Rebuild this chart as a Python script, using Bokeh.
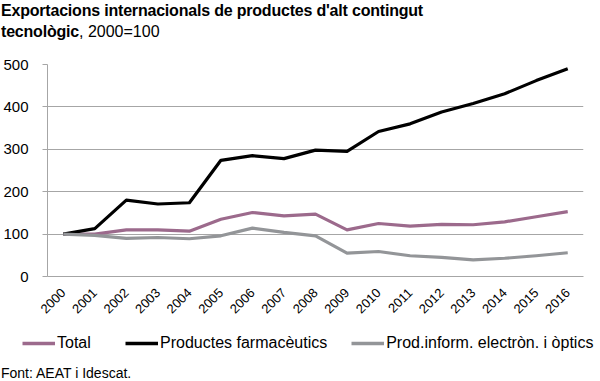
import math
from bokeh.plotting import figure
from bokeh.models import Legend, LegendItem, FixedTicker, Range1d, Div
from bokeh.layouts import column
from bokeh.embed import file_html
from bokeh.resources import INLINE

years = [str(y) for y in range(2000, 2017)]
total = [100, 100, 110, 110, 107, 135, 151, 143, 147, 110, 125, 119, 123, 122, 129, 141, 153]
farma = [100, 113, 180, 171, 174, 274, 285, 278, 298, 295, 342, 360, 388, 408, 431, 462, 490]
electro = [100, 97, 90, 92, 89, 96, 114, 104, 96, 55, 59, 49, 45, 39, 43, 49, 56]

title1 = "Exportacions internacionals de productes d'alt contingut"
title2a = "tecnològic"
title2b = ", 2000=100"
source = "Font: AEAT i Idescat."
names = ["Total", "Productes farmacèutics", "Prod.inform. electròn. i òptics"]
colors = ["#9c6a8c", "#000000", "#939598"]

FONT = "Liberation Sans"
GRID = "#a6a6a6"

title_div = Div(
    text=(f"<div style=\"font-family:'{FONT}';font-size:16px;line-height:21px;color:#000;"
          f"white-space:nowrap;padding-left:1px\">"
          f"<span style=\"font-weight:bold;letter-spacing:-0.2px\">{title1}</span><br>"
          f"<span style=\"font-weight:bold;letter-spacing:-0.2px\">{title2a}</span>{title2b}</div>"),
    width=600, height=48, margin=0)

p = figure(width=600, height=282, x_range=years, y_range=Range1d(0, 500),
           output_backend="svg", toolbar_location=None,
           min_border_left=47, min_border_right=17, min_border_top=16, min_border_bottom=54)
p.outline_line_color = None
p.background_fill_color = "white"
p.border_fill_color = "white"

p.xgrid.grid_line_color = None
p.ygrid.grid_line_color = GRID
p.ygrid.grid_line_width = 1
p.yaxis.ticker = FixedTicker(ticks=[0, 100, 200, 300, 400, 500])
p.yaxis.axis_line_color = GRID
p.yaxis.major_tick_line_color = GRID
p.yaxis.major_tick_out = 5
p.yaxis.major_tick_in = 0
p.yaxis.minor_tick_line_color = None
p.yaxis.major_label_standoff = 14
p.yaxis.major_label_text_font = FONT
p.yaxis.major_label_text_font_size = "15px"
p.yaxis.major_label_text_color = "#000000"

p.xaxis.axis_line_color = GRID
p.xaxis.major_tick_line_color = None
p.xaxis.minor_tick_line_color = None
p.xaxis.major_label_orientation = math.pi / 4
p.xaxis.major_label_standoff = 8
p.xaxis.major_label_text_font = FONT
p.xaxis.major_label_text_font_size = "13px"
p.xaxis.major_label_text_color = "#000000"

for vals, c in zip([total, farma, electro], colors):
    p.line(years, vals, line_color=c, line_width=3.2, line_join="round")

# separate strip for the legend, so it can sit under the whole width
pl = figure(width=600, height=30, x_range=Range1d(0, 1), y_range=Range1d(0, 1),
            output_backend="svg", toolbar_location=None,
            x_axis_location=None, y_axis_location=None,
            min_border=0, min_border_left=0, min_border_right=0, min_border_top=0, min_border_bottom=0)
pl.frame_align = False
pl.outline_line_color = None
pl.grid.visible = False
nan = float("nan")
dummies = [pl.line(x=[nan], y=[nan], line_color=c, line_width=3.5) for c in colors]
legend = Legend(items=[LegendItem(label=n, renderers=[r]) for n, r in zip(names, dummies)],
                location=(22, 7), orientation="horizontal", border_line_color=None,
                background_fill_alpha=0, padding=0, margin=0, spacing=24,
                glyph_width=33, glyph_height=20, label_standoff=2, label_height=20, label_width=44,
                label_text_font=FONT, label_text_font_size="16px", label_text_color="#000000")
pl.add_layout(legend, "center")

source_div = Div(
    text=(f"<div style=\"font-family:'{FONT}';font-size:14px;line-height:16px;color:#000;"
          f"white-space:nowrap;padding-top:5px;padding-left:1px\">{source}</div>"),
    width=300, height=21, margin=0)

layout = column(title_div, p, pl, source_div, spacing=0)
open("out.html", "w").write(file_html(layout, INLINE))
